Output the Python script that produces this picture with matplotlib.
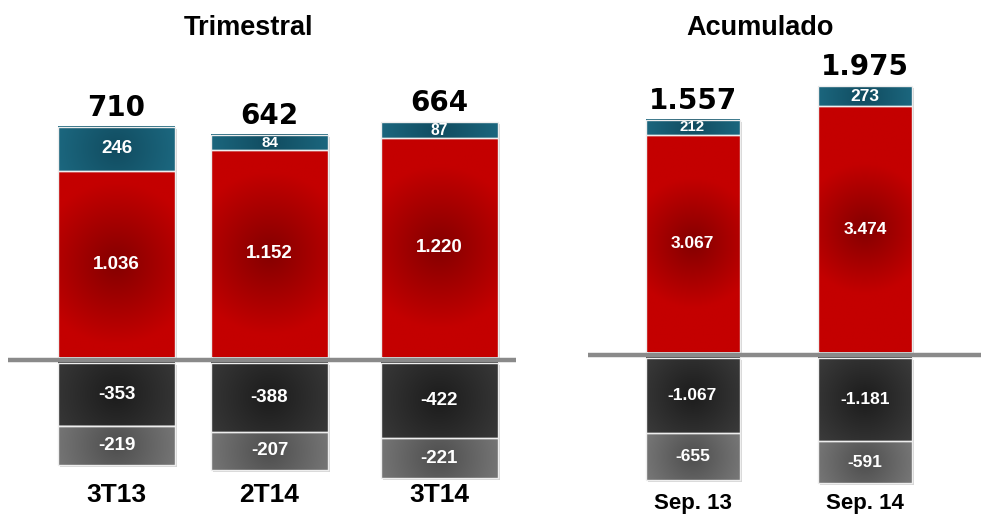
import numpy as np
import matplotlib.pyplot as plt
from matplotlib.colors import to_rgb
from matplotlib.patches import Rectangle

# Trimestral
trim_cats = ["3T13", "2T14", "3T14"]
trim_teal = [246, 84, 87]
trim_red = [1036, 1152, 1220]
trim_dark = [-353, -388, -422]
trim_light = [-219, -207, -221]
trim_total = ["710", "642", "664"]

# Acumulado
acum_cats = ["Sep. 13", "Sep. 14"]
acum_teal = [212, 273]
acum_red = [3067, 3474]
acum_dark = [-1067, -1181]
acum_light = [-655, -591]
acum_total = ["1.557", "1.975"]

W, H = 981, 516
fig = plt.figure(figsize=(W / 100, H / 100), dpi=100)
plt.rcParams['font.family'] = ['Liberation Sans', 'DejaVu Sans']

# (borde, centro) de cada color
COLORES = {
    "teal": ("#1f7089", "#114c60"),
    "red": ("#c40000", "#840000"),
    "dark": ("#3d3d3d", "#1c1c1c"),
    "light": ("#828282", "#4e4e4e"),
}


def fmt(v):
    s = f"{abs(v):,}".replace(",", ".")
    return "-" + s if v < 0 else s


def segmento(ax, x, w, y0, y1, color, sy, etiqueta, fs):
    """Rectangulo con degradado radial (centro oscuro)."""
    lo, hi = min(y0, y1), max(y0, y1)
    wpx, hpx = w, (hi - lo) * sy
    nx, ny = 60, max(int(hpx / 2), 10)
    gx = np.linspace(-wpx / 2, wpx / 2, nx)
    gy = np.linspace(-hpx / 2, hpx / 2, ny)
    X, Y = np.meshgrid(gx, gy)
    R = np.sqrt(X ** 2 + Y ** 2) / (wpx * 0.7)
    t = np.clip(R, 0, 1)[..., None]
    borde, centro = np.array(to_rgb(COLORES[color][0])), np.array(to_rgb(COLORES[color][1]))
    img = centro * (1 - t) + borde * t
    # sombra
    ax.add_patch(Rectangle((x - w / 2 + 2, lo - 2 / sy), w, hi - lo,
                           facecolor="#d6d6d6", edgecolor="none", zorder=1))
    ax.imshow(img, extent=(x - w / 2, x + w / 2, lo, hi), origin="lower",
              aspect="auto", interpolation="bilinear", zorder=2)
    ax.add_patch(Rectangle((x - w / 2, lo), w, hi - lo, facecolor="none",
                           edgecolor="#eeeeee", linewidth=1.0, zorder=3))
    # letra mas chica si el tramo es bajo
    fs = min(fs, hpx * 0.72)
    ax.text(x, (lo + hi) / 2, fmt(etiqueta), color="white", fontsize=fs,
            fontweight="bold", ha="center", va="center", zorder=4)


def panel(px0, px1, base_px, sy, centros_px, ancho_px, cats, teal, red, dark, light,
          totales, fs_seg, fs_tot, fs_cat, cat_px, titulo, titulo_x):
    # eje x en pixeles para ubicar las barras
    ax = fig.add_axes([px0 / W, 0, (px1 - px0) / W, 1])
    ax.set_xlim(px0, px1)
    ax.set_ylim(-(H - base_px) / sy, base_px / sy)
    ax.axis("off")
    gap = 2.5 / sy
    for i in range(len(cats)):
        x = centros_px[i]
        segmento(ax, x, ancho_px, gap, gap + red[i], "red", sy, red[i], fs_seg)
        segmento(ax, x, ancho_px, gap + red[i], gap + red[i] + teal[i], "teal", sy, teal[i], fs_seg)
        segmento(ax, x, ancho_px, -gap, -gap + dark[i], "dark", sy, dark[i], fs_seg)
        segmento(ax, x, ancho_px, -gap + dark[i], -gap + dark[i] + light[i], "light", sy, light[i], fs_seg)
        tope = gap + red[i] + teal[i]
        ax.text(x, tope + 19 / sy, totales[i], fontsize=fs_tot, fontweight="bold",
                family="DejaVu Sans", ha="center", va="center", color="black")
        ax.text(x, -(cat_px - base_px) / sy, cats[i], fontsize=fs_cat, fontweight="bold",
                ha="center", va="center", color="black")
    ax.axhline(0, color="#8a8a8a", linewidth=3.2, zorder=5)
    fig.text(titulo_x / W, 1 - 28 / H, titulo, fontsize=19.5, fontweight="bold",
             ha="center", va="center")
    return ax


panel(8, 516, 360, 0.18, [116.5, 269.5, 439], 117, trim_cats, trim_teal, trim_red,
      trim_dark, trim_light, trim_total, 13.5, 20, 19, 495, "Trimestral", 248)
panel(588, 981, 355, 0.071, [692.5, 865], 94, acum_cats, acum_teal, acum_red,
      acum_dark, acum_light, acum_total, 12.5, 20, 16, 503, "Acumulado", 760)

fig.savefig("out.png", dpi=100)
